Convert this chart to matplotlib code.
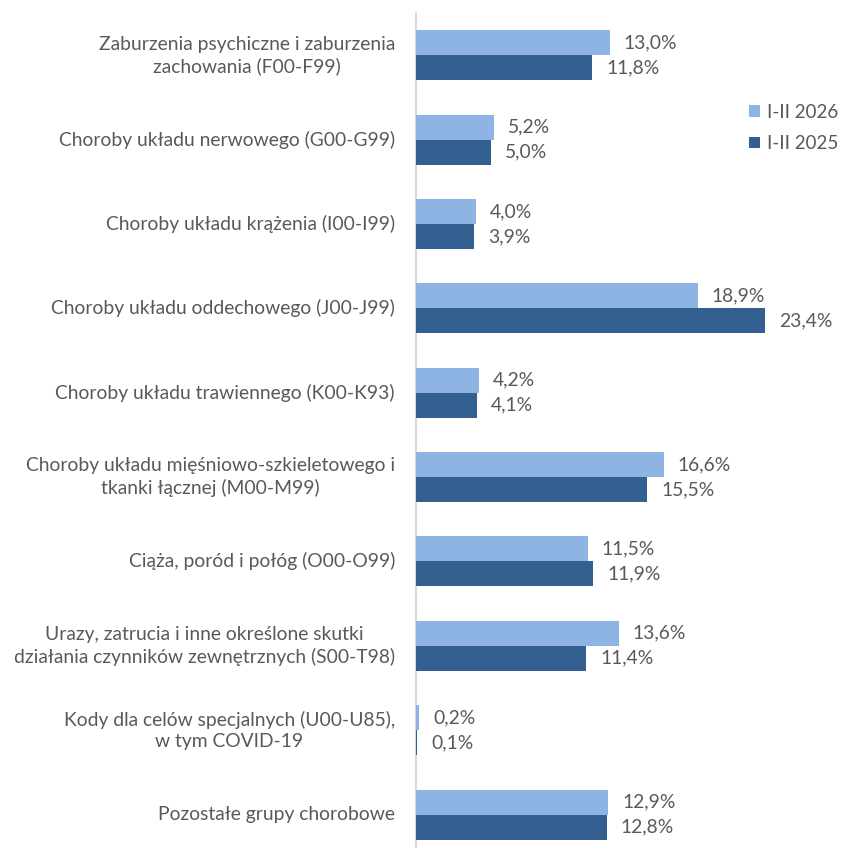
import matplotlib
matplotlib.use("Agg")
import matplotlib.pyplot as plt

categories = [
    "Zaburzenia psychiczne i zaburzenia\nzachowania (F00-F99)",
    "Choroby układu nerwowego (G00-G99)",
    "Choroby układu krążenia (I00-I99)",
    "Choroby układu oddechowego (J00-J99)",
    "Choroby układu trawiennego (K00-K93)",
    "Choroby układu mięśniowo-szkieletowego i\ntkanki łącznej (M00-M99)",
    "Ciąża, poród i połóg (O00-O99)",
    "Urazy, zatrucia i inne określone skutki\ndziałania czynników zewnętrznych (S00-T98)",
    "Kody dla celów specjalnych (U00-U85),\nw tym COVID-19",
    "Pozostałe grupy chorobowe",
]
series_names = ["I-II 2026", "I-II 2025"]
values_2026 = [13.0, 5.2, 4.0, 18.9, 4.2, 16.6, 11.5, 13.6, 0.2, 12.9]
values_2025 = [11.8, 5.0, 3.9, 23.4, 4.1, 15.5, 11.9, 11.4, 0.1, 12.8]

c_light = "#8EB4E3"
c_dark = "#345F91"
txt = "#595959"
font = "Lato"
fs = 13.9

fig = plt.figure(figsize=(8.45, 8.48), dpi=100)
W, H = 845, 848
x0 = 416
xmax = 28
px_per = (765 - 416) / 23.4
x1 = x0 + xmax * px_per
ax = fig.add_axes([x0 / W, 0, (x1 - x0) / W, (H - 13) / H])

step = 84.4
ytop = -0.5
ybot = (848 - 55) / step
ax.set_ylim(ybot, ytop)
ax.set_xlim(0, xmax)

h = 0.296
ys = list(range(len(categories)))
b1 = ax.barh([y - h / 2 for y in ys], values_2026, height=h, color=c_light,
             label=series_names[0], zorder=3)
b2 = ax.barh([y + h / 2 for y in ys], values_2025, height=h, color=c_dark,
             label=series_names[1], zorder=3)

off = 14 / px_per
for y, v in zip(ys, values_2026):
    ax.text(v + off, y - h / 2, f"{v:.1f}%".replace(".", ","), va="center", ha="left",
            fontsize=fs, color=txt, family=font)
for y, v in zip(ys, values_2025):
    ax.text(v + off, y + h / 2, f"{v:.1f}%".replace(".", ","), va="center", ha="left",
            fontsize=fs, color=txt, family=font)

for y, c in zip(ys, categories):
    ax.text(-21 / px_per, y, c, ha="right", va="center", multialignment="center",
            fontsize=fs, color=txt, family=font, linespacing=1.3)

ax.set_yticks([])
ax.set_xticks([])
for s in ["top", "right", "bottom"]:
    ax.spines[s].set_visible(False)
ax.spines["left"].set_color("#D9D9D9")
ax.spines["left"].set_linewidth(1.5)
ax.spines["left"].set_zorder(1)

leg = fig.legend(handles=[b1, b2], labels=series_names, loc="upper left",
                 bbox_to_anchor=(749 / W, 1 - 104 / H), frameon=False,
                 prop={"family": font, "size": 13.5}, handlelength=0.6, handleheight=0.6,
                 handletextpad=0.35, labelspacing=0.75, borderaxespad=0, borderpad=0)
for t in leg.get_texts():
    t.set_color(txt)

fig.savefig("out.png", dpi=100)
